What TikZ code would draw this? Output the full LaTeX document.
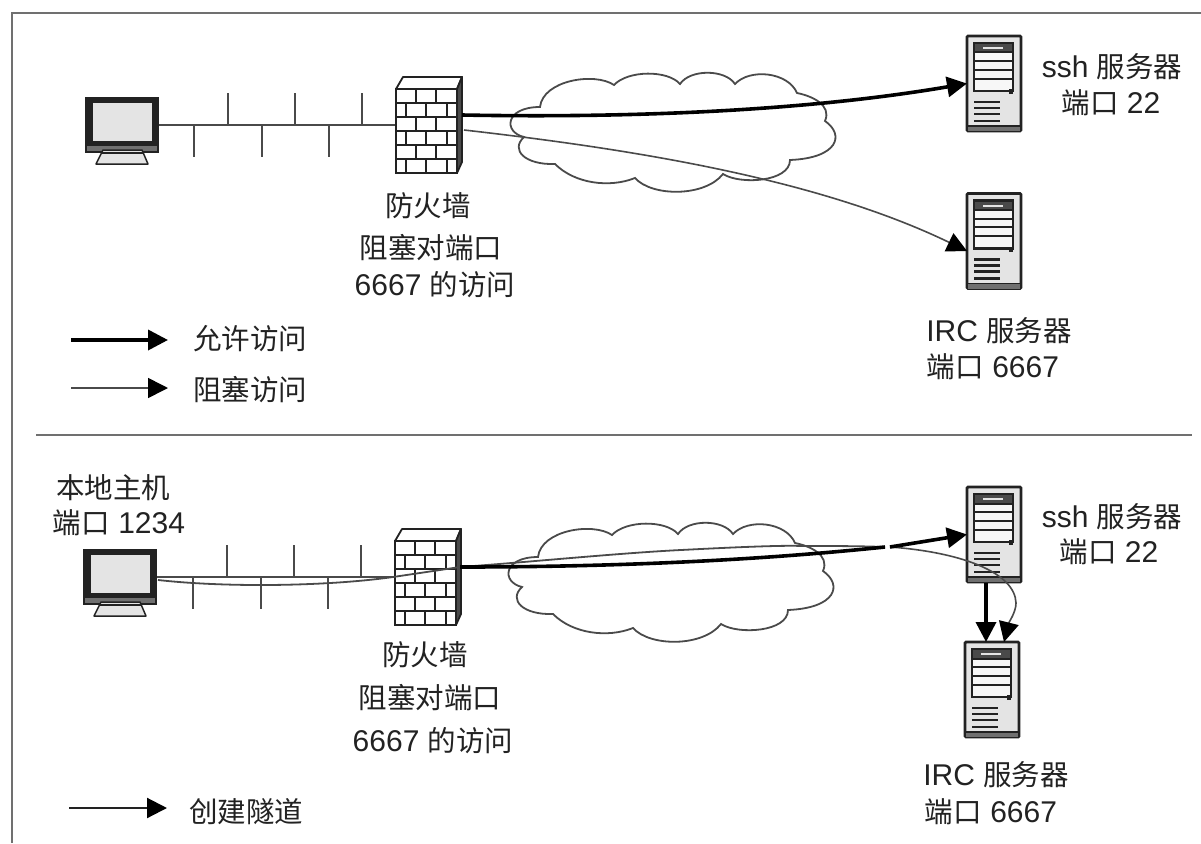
\documentclass[tikz,border=0pt]{standalone}
\usepackage{fontspec}
\setmainfont{Liberation Sans}
\newfontfamily\cjk{Noto Sans CJK SC}
\usetikzlibrary{arrows.meta}
\definecolor{ink}{HTML}{222222}
\definecolor{soft}{HTML}{4A4A4A}
\definecolor{rulec}{HTML}{707070}
\definecolor{panel}{HTML}{E4E4E4}
\newcommand{\cj}[1]{{\cjk\fontsize{28.5}{30}\selectfont #1}}
\tikzset{
  slot/.style={rectangle,inner sep=0pt,outer sep=0pt},
  lbl/.style={inner sep=0pt,text=ink,font=\fontsize{30}{32}\selectfont},
  frameline/.style={draw=rulec,line width=2.5pt},
  busline/.style={draw=soft,line width=2.4pt},
  cloudline/.style={draw=soft,fill=white,line width=1.8pt},
  thickarrow/.style={draw=black,line width=3.6pt,-{Triangle[length=20pt,width=20pt]}},
  thinarrow/.style={draw=soft,line width=1.6pt,-{Triangle[length=20pt,width=20pt,color=black]}},
  midarrow/.style={draw=ink,line width=2.2pt,-{Triangle[length=20pt,width=20pt,color=black]}},
  hostpc/.pic={
    \fill[ink] (0,0) rectangle (74,56);
    \fill[rulec] (2,49) rectangle (72,54);
    \fill[panel] (8,6) rectangle (67,44);
    \draw[draw=ink,fill=panel,line width=1.5pt,line join=round] (18,53) -- (57,53) -- (63,67) -- (11,67) -- cycle;
    \draw[draw=ink,line width=1.5pt] (16,56) -- (59,56);
  },
  fwall/.pic={
    \draw[draw=ink,fill=white,line width=1.8pt,line join=round] (0,12) -- (7,0) -- (66,0) -- (61,12) -- cycle;
    \draw[draw=ink,fill=soft,line width=1.8pt,line join=round] (61,12) -- (66,0) -- (66,85) -- (61,96) -- cycle;
    \draw[draw=ink,fill=white,line width=2pt] (0,12) rectangle (61,96);
    \foreach \r in {1,...,5} {\draw[draw=ink,line width=2pt] (0,12+14*\r) -- (61,12+14*\r);}
    \foreach \r in {0,2,4} {
      \draw[draw=ink,line width=2pt] (20,12+14*\r) -- (20,26+14*\r) (40,12+14*\r) -- (40,26+14*\r);}
    \foreach \r in {1,3,5} {
      \draw[draw=ink,line width=2pt] (10,12+14*\r) -- (10,26+14*\r) (30,12+14*\r) -- (30,26+14*\r) (51,12+14*\r) -- (51,26+14*\r);}
  },
  srv/.pic={
    \draw[draw=ink,fill=panel,line width=2.8pt,rounded corners=1pt] (0,0) rectangle (54,95);
    \fill[rulec] (1,90) rectangle (53,95);
    \draw[draw=ink,line width=1.8pt] (1,90) -- (53,90);
    \draw[draw=ink,fill=white!70!panel,line width=2.2pt] (7,7) rectangle (46,55);
    \fill[soft] (8,8) rectangle (45,16);
    \fill[panel] (16,11) rectangle (36,13);
    \foreach \y in {16.5,25,33.5,42.5} {\draw[draw=ink,line width=2pt] (7,\y) -- (46,\y);}
    \foreach \y in {66,72,78,85} {\draw[draw=ink,line width=2.4pt] (7,\y) -- (33,\y);}
    \fill[ink] (42,53) rectangle (46,58);
  }
}
\begin{document}
\begin{tikzpicture}[x=1pt,y=-1pt]
\useasboundingbox (0,0) rectangle (1201,843);
\fill[white] (0,0) rectangle (1201,843);

% frame
\coordinate (fA) at (12,843); \coordinate (fB) at (12,13); \coordinate (fC) at (1201,13);
\coordinate (dA) at (36,435); \coordinate (dB) at (1192,435);
\draw[frameline] (fA) -- (fB) -- (fC);
\draw[frameline] (dA) -- (dB);

% clouds
\foreach \dx/\dy in {0/0,-2/450} {
\begin{scope}[shift={(\dx,\dy)}]
\draw[cloudline]
 (540,107) .. controls (543,80) and (595,72) .. (614,85)
 .. controls (628,70) and (668,70) .. (680,84)
 .. controls (690,69) and (725,69) .. (735,84)
 .. controls (750,68) and (788,72) .. (797,93)
 .. controls (812,96) and (832,105) .. (825,121)
 .. controls (845,135) and (838,158) .. (790,160)
 .. controls (790,182) and (740,185) .. (723,174)
 .. controls (705,197) and (652,197) .. (635,178)
 .. controls (610,188) and (575,184) .. (555,164)
 .. controls (525,165) and (510,150) .. (524,137)
 .. controls (503,132) and (505,107) .. (540,107) -- cycle;
\end{scope}}

% placed equipment
\node[slot,minimum width=74pt,minimum height=56pt] (pc1) at (122,125) {};
\node[slot,minimum width=74pt,minimum height=56pt] (pc2) at (120,577) {};
\node[slot,minimum width=66pt,minimum height=96pt] (fw1) at (429,125) {};
\node[slot,minimum width=66pt,minimum height=96pt] (fw2) at (428,577) {};
\node[slot,minimum width=54pt,minimum height=95pt] (ssh1) at (994,83.5) {};
\node[slot,minimum width=54pt,minimum height=95pt] (irc1) at (994,241) {};
\node[slot,minimum width=54pt,minimum height=95pt] (ssh2) at (994,534.5) {};
\node[slot,minimum width=54pt,minimum height=95pt] (irc2) at (992,689.5) {};

% network buses
\foreach \bn/\pcn/\fwn/\by/\sx in {a/pc1/fw1/125/0,b/pc2/fw2/577/-1} {
  \draw[busline] (\pcn.east) -- (\fwn.west);
  \foreach \tx in {228,295,362} {\draw[busline] (\tx+\sx,\by) -- (\tx+\sx,\by-32);}
  \foreach \tx in {194,262,329} {\draw[busline] (\tx+\sx,\by) -- (\tx+\sx,\by+32);}
}

\pic at (pc1.north west) {hostpc};
\pic at (pc2.north west) {hostpc};
\pic at (fw1.north west) {fwall};
\pic at (fw2.north west) {fwall};
\pic at (ssh1.north west) {srv};
\pic at (irc1.north west) {srv};
\pic at (ssh2.north west) {srv};
\pic at (irc2.north west) {srv};

% connectors, top
\coordinate (t1) at (462,115);
\coordinate (t2) at (464,130);
\coordinate (t3) at (967,251);
\draw[thickarrow] (t1) .. controls (620,118) and (800,112) .. (ssh1.west);
\draw[thinarrow] (t2) .. controls (640,150) and (820,180) .. (t3);

% connectors, bottom
\coordinate (b1) at (158,580);
\coordinate (b2) at (393,577);
\coordinate (b3) at (460,567);
\coordinate (b4) at (681,550);
\coordinate (b5) at (885,547);
\coordinate (b6) at (890,547);
\coordinate (b7) at (1016,603);
\coordinate (b8) at (1004,642);
\coordinate (b9) at (986,583);
\coordinate (b10) at (986,642);
\draw[draw=soft,line width=1.8pt] (b1) .. controls (230,588) and (330,586) .. (b2)
  .. controls (420,573) and (440,570) .. (b3)
  .. controls (530,562) and (620,553) .. (b4)
  .. controls (720,548) and (780,545) .. (802,546)
  .. controls (835,546) and (860,546) .. (b5);
\draw[thinarrow] (b6) .. controls (960,552) and (1015,572) .. (b7) .. controls (1016,612) and (1009,622) .. (b8);
\draw[draw=black,line width=3.6pt] (b3) .. controls (620,567) and (760,560) .. (b5);
\draw[thickarrow] (b6) -- (ssh2.west);
\draw[thickarrow] (b9) -- (b10);

% legend
\coordinate (l1) at (71,340); \coordinate (l2) at (168,340);
\coordinate (l3) at (71,388); \coordinate (l4) at (168,388);
\coordinate (l5) at (69,808); \coordinate (l6) at (167,808);
\draw[thickarrow] (l1) -- (l2);
\draw[thinarrow] (l3) -- (l4);
\draw[midarrow] (l5) -- (l6);

% labels
\node[lbl] (x1) at (1112,67) {ssh \cj{服务器}};
\node[lbl] (x2) at (1111,103) {\cj{端口} 22};
\node[lbl] (x3) at (428,206) {\cj{防火墙}};
\node[lbl] (x4) at (431,248) {\cj{阻塞对端口}};
\node[lbl] (x5) at (435,285) {6667 \cj{的访问}};
\node[lbl] (x6) at (999,331) {IRC \cj{服务器}};
\node[lbl] (x7) at (993,367) {\cj{端口} 6667};
\node[lbl] (x8) at (250,339) {\cj{允许访问}};
\node[lbl] (x9) at (250,390) {\cj{阻塞访问}};
\node[lbl] (x10) at (113,488) {\cj{本地主机}};
\node[lbl] (x11) at (119,523) {\cj{端口} 1234};
\node[lbl] (x12) at (425,655) {\cj{防火墙}};
\node[lbl] (x13) at (430,698) {\cj{阻塞对端口}};
\node[lbl] (x14) at (433,741) {6667 \cj{的访问}};
\node[lbl] (x15) at (1112,517) {ssh \cj{服务器}};
\node[lbl] (x16) at (1109,552) {\cj{端口} 22};
\node[lbl] (x17) at (996,775) {IRC \cj{服务器}};
\node[lbl] (x18) at (991,812) {\cj{端口} 6667};
\node[lbl] (x19) at (246,812) {\cj{创建隧道}};
\end{tikzpicture}
\end{document}
